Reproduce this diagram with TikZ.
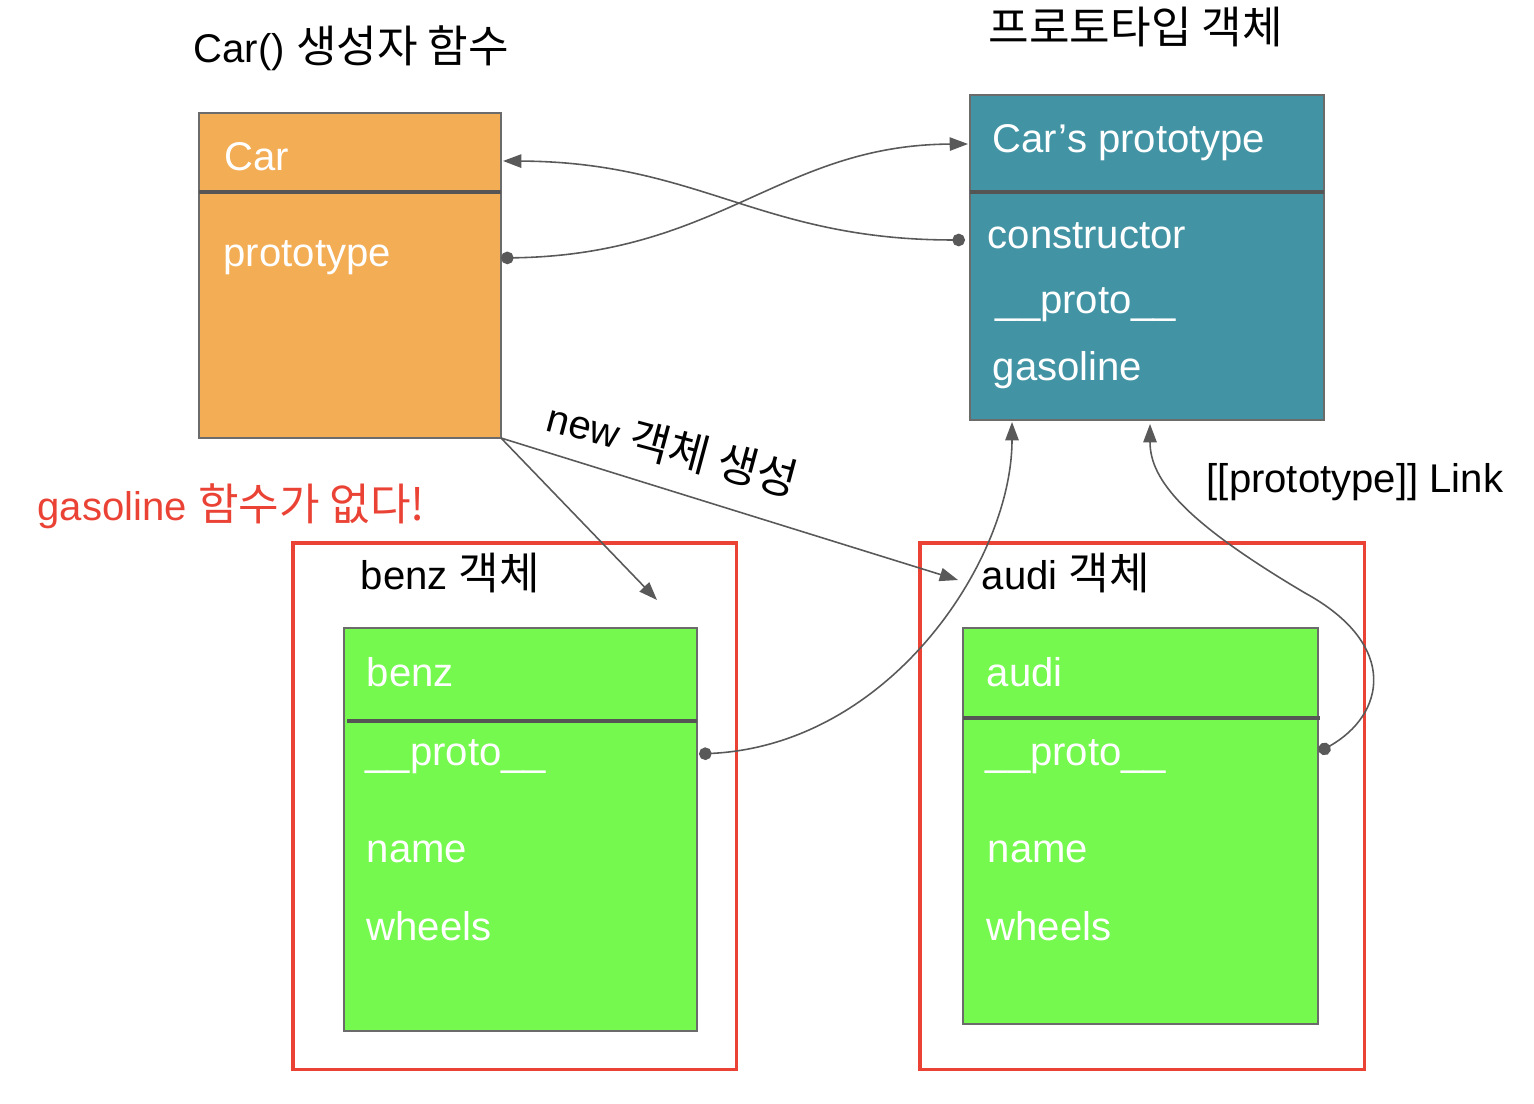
\documentclass[tikz,border=0pt]{standalone}
\usepackage{fontspec}
\setmainfont{Liberation Sans}
\newfontfamily\kr[Scale=1.1]{Noto Sans CJK KR}
\usetikzlibrary{arrows.meta}
\definecolor{carorange}{HTML}{F2AD55}
\definecolor{prototeal}{HTML}{4294A5}
\definecolor{objgreen}{HTML}{76F94E}
\definecolor{framered}{HTML}{EA4335}
\definecolor{boxgray}{HTML}{6B6B6B}
\definecolor{divgray}{HTML}{555555}
\definecolor{linkgray}{HTML}{595959}
\tikzset{
  box/.style={draw=boxgray, line width=0.6pt, anchor=north west, inner sep=0pt, outer sep=0pt},
  frame/.style={draw=framered, line width=1pt, anchor=north west, inner sep=0pt, outer sep=0pt},
  divider/.style={draw=divgray, line width=1.1pt},
  wt/.style={text=white, anchor=base west, inner sep=0pt},
  bt/.style={text=black, anchor=base west, inner sep=0pt},
  link/.style={draw=linkgray, line width=0.45pt, -{Triangle[length=5.2pt,width=3.8pt]}},
  dotlink/.style={draw=linkgray, line width=0.45pt, {Circle[length=3.6pt]}-{Triangle[length=5.2pt,width=3.8pt]}}
}
\begin{document}
\begin{tikzpicture}[x=0.01cm,y=-0.01cm,font=\fontsize{11.4}{13.5}\selectfont]
\useasboundingbox (0,0) rectangle (1534,1104);

% titles
\node[bt] (tCarFn) at (193,63) {Car() {\kr 생성자 함수}};
\node[bt] (tProtoObj) at (988,44) {\kr 프로토타입 객체};
\node[bt, text=framered] (tNoGas) at (37,521) {gasoline {\kr 함수가 없다!}};
\node[bt] (tLink) at (1206,493) {[[prototype]] Link};
\node[bt, rotate=-15] (tNew) at (544,430) {new {\kr 객체 생성}};

% red frames
\node[frame, minimum width=4.43cm, minimum height=5.26cm] (benzFrame) at (293,543) {};
\node[frame, minimum width=4.44cm, minimum height=5.26cm] (audiFrame) at (920,543) {};
\node[bt] (tBenzObj) at (360,590) {benz {\kr 객체}};
\node[bt] (tAudiObj) at (981,590) {audi {\kr 객체}};

% Car constructor box
\node[box, fill=carorange, minimum width=3.02cm, minimum height=3.25cm] (car) at (199,113) {};
\draw[divider] (199,192) -- (501,192);
\node[wt] (tCar) at (224,171) {Car};
\node[wt] (tCarProto) at (223,267) {prototype};

% prototype object box
\node[box, fill=prototeal, minimum width=3.54cm, minimum height=3.25cm] (proto) at (970,95) {};
\draw[divider] (970,192) -- (1324,192);
\node[wt] (tPTitle) at (992,153) {Car’s prototype};
\node[wt] (tPCons) at (987,249) {constructor};
\node[wt] (tPProto) at (995,314) {\_\_proto\_\_};
\node[wt] (tPGas) at (992,381) {gasoline};

% benz object
\node[box, fill=objgreen, minimum width=3.53cm, minimum height=4.03cm] (benz) at (344,628) {};
\draw[divider] (347,721) -- (697,721);
\node[wt] (tBenz) at (366,687) {benz};
\node[wt] (tBenzProto) at (365,765) {\_\_proto\_\_};
\node[wt] (tBenzName) at (366,862) {name};
\node[wt] (tBenzWheels) at (366,940) {wheels};

% audi object
\node[box, fill=objgreen, minimum width=3.55cm, minimum height=3.96cm] (audi) at (963,628) {};
\draw[divider] (963,718) -- (1320,718);
\node[wt] (tAudi) at (986,687) {audi};
\node[wt] (tAudiProto) at (985,765) {\_\_proto\_\_};
\node[wt] (tAudiName) at (987,862) {name};
\node[wt] (tAudiWheels) at (986,940) {wheels};

% connector end points
\coordinate (carProtoOut) at (501,258);
\coordinate (protoIn) at (968,144);
\coordinate (consOut) at (965,240);
\coordinate (carIn) at (503,161);
\coordinate (carCorner) at (501,438);
\coordinate (benzIn) at (657,600);
\coordinate (audiIn) at (958,580);
\coordinate (benzProtoOut) at (699,754);
\coordinate (protoBottomA) at (1012,422);
\coordinate (audiProtoOut) at (1319,752);
\coordinate (protoBottomB) at (1150,424);
\coordinate (audiBend) at (1305,593);

% connectors
\draw[dotlink] (carProtoOut) .. controls (720,255) and (780,145) .. (protoIn);
\draw[dotlink] (consOut) .. controls (760,240) and (700,162) .. (carIn);
\draw[link] (carCorner) -- (benzIn);
\draw[link] (carCorner) -- (audiIn);
\draw[dotlink] (benzProtoOut) .. controls (890,745) and (1012,560) .. (protoBottomA);
\draw[dotlink] (audiProtoOut) .. controls (1385,715) and (1400,645) .. (audiBend) .. controls (1185,522) and (1150,480) .. (protoBottomB);
\end{tikzpicture}
\end{document}
